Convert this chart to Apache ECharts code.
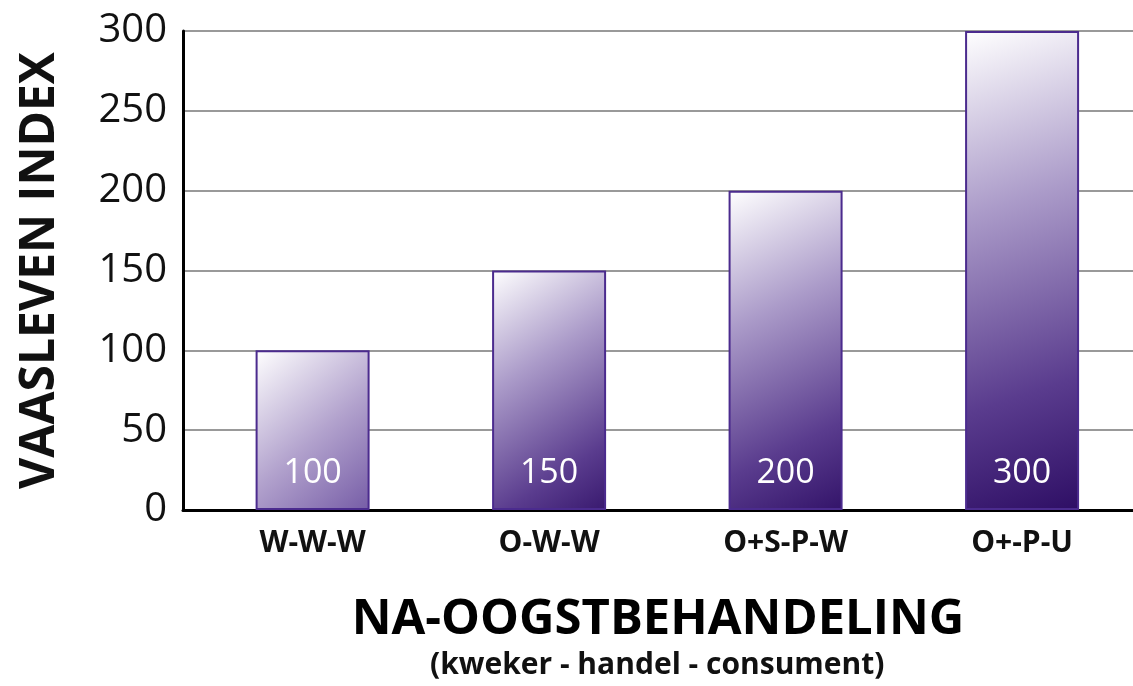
<!DOCTYPE html>
<html>
<head>
<meta charset="utf-8">
<script src="https://cdn.jsdelivr.net/npm/echarts@6/dist/echarts.min.js"></script>
<style>
  html, body { margin: 0; padding: 0; background: #ffffff; }
  #chart { width: 1133px; height: 686px; }
</style>
</head>
<body>
<div id="chart"></div>
<script>
// categorieen (na-oogstbehandeling) en vaasleven index
const categories = ['W-W-W', 'O-W-W', 'O+S-P-W', 'O+-P-U']
const values = [100, 150, 200, 300]
const yTicks = [0, 50, 100, 150, 200, 250, 300]

const chart = echarts.init(document.getElementById('chart'))

// verloop per staaf: linksboven wit, onderaan donkerpaars
function barFill(i) {
  if (i === 0) {
    return new echarts.graphic.LinearGradient(0, 0, 1.2, 1, [
      { offset: 0, color: '#ffffff' },
      { offset: 0.5, color: '#b2a2cd' },
      { offset: 1, color: '#6c51a0' }
    ])
  }
  return new echarts.graphic.LinearGradient(0, 0, 1.4, 1, [
    { offset: 0, color: '#ffffff' },
    { offset: 0.35, color: '#ab9bc9' },
    { offset: 0.72, color: '#5a3c8e' },
    { offset: 1, color: '#290960' }
  ])
}

const option = {
  backgroundColor: '#ffffff',
  grid: { left: 183, right: 0, top: 31, bottom: 176 },
  xAxis: {
    type: 'value',
    min: -0.548,
    max: 3.469,
    axisLine: { show: true, lineStyle: { color: '#000000', width: 3 } },
    axisTick: { show: false },
    splitLine: { show: false },
    axisLabel: {
      customValues: [0, 1, 2, 3],
      formatter: v => categories[Math.round(v)] || '',
      color: '#111111',
      fontFamily: 'Open Sans',
      fontWeight: 'bold',
      fontSize: 30,
      margin: 18
    },
    name: 'NA-OOGSTBEHANDELING',
    nameLocation: 'middle',
    nameGap: 86,
    nameTextStyle: {
      color: '#000000',
      fontFamily: 'Open Sans',
      fontWeight: 'bold',
      fontSize: 49
    }
  },
  yAxis: {
    type: 'value',
    min: 0,
    max: 300,
    interval: 50,
    axisLine: { show: true, onZero: false, lineStyle: { color: '#000000', width: 3 } },
    axisTick: { show: false },
    axisLabel: {
      color: '#111111',
      fontFamily: 'Open Sans',
      fontSize: 40,
      margin: 16,
      formatter: v => (yTicks.includes(v) ? String(v) : '')
    },
    splitLine: { lineStyle: { color: '#999999', width: 2 } },
    name: 'VAASLEVEN INDEX',
    nameLocation: 'middle',
    nameGap: 119,
    nameTextStyle: {
      color: '#111111',
      fontFamily: 'Open Sans',
      fontWeight: 'bold',
      fontSize: 48
    }
  },
  series: [{
    type: 'bar',
    barWidth: 114,
    data: values.map((v, i) => ({
      value: [i, v],
      itemStyle: {
        color: barFill(i),
        borderColor: '#4b2b8e',
        borderWidth: 2
      }
    })),
    label: {
      show: true,
      position: 'insideBottom',
      distance: 20,
      color: '#ffffff',
      fontFamily: 'Open Sans',
      fontSize: 34,
      formatter: p => String(p.value[1])
    }
  }],
  graphic: [{
    type: 'text',
    left: 430,
    top: 650,
    style: {
      text: '(kweker - handel - consument)',
      fill: '#111111',
      font: 'bold 30px "Open Sans"'
    }
  }]
}

chart.setOption(option)
</script>
</body>
</html>
